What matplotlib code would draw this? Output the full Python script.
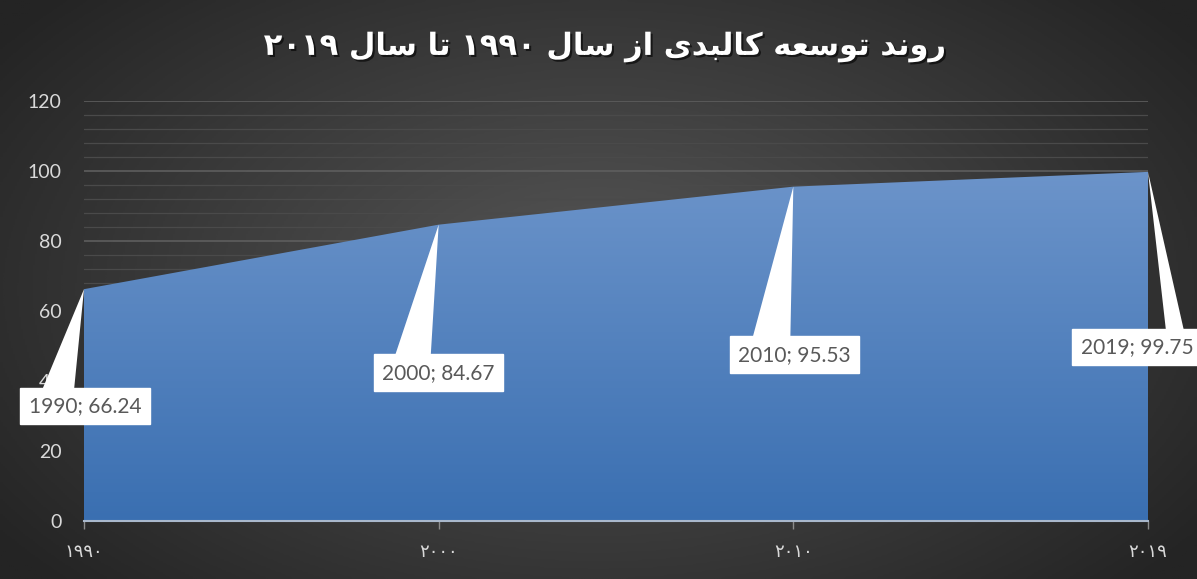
import unicodedata
import numpy as np
import matplotlib.pyplot as plt
import matplotlib.patheffects as pe
from matplotlib.colors import LinearSegmentedColormap
from matplotlib.patches import Polygon
from matplotlib.transforms import IdentityTransform

# data
years = ['1990', '2000', '2010', '2019']
values = [66.24, 84.67, 95.53, 99.75]
year_labels = ['۱۹۹۰', '۲۰۰۰', '۲۰۱۰', '۲۰۱۹']
title = 'روند توسعه کالبدی از سال ۱۹۹۰ تا سال ۲۰۱۹'

# callout layout in pixels: label centre offset from the point,
# where the wedge meets the box top (relative to box centre) and its half width
label_offsets = [(1, -117), (0, -148), (1, -168), (-11, -175)]
wedge_base = [(-27, 16), (-26, 18), (-23, 19), (38, 9)]
box_half_h = 18

RIGHT_ONLY = set('اآأإدذرزژو')


def is_letter(ch):
    return unicodedata.name(ch, '').startswith('ARABIC LETTER')


def shape_fa(text):
    # matplotlib has no arabic shaping, so pick the joined forms by hand
    # and put everything in visual (left to right) order
    out = []
    for i, ch in enumerate(text):
        if not is_letter(ch):
            out.append(ch)
            continue
        prev = text[i - 1] if i > 0 else ' '
        nxt = text[i + 1] if i + 1 < len(text) else ' '
        jp = is_letter(prev) and prev not in RIGHT_ONLY
        jn = is_letter(nxt) and ch not in RIGHT_ONLY
        form = {(True, True): 'MEDIAL', (True, False): 'FINAL',
                (False, True): 'INITIAL', (False, False): 'ISOLATED'}[(jp, jn)]
        try:
            out.append(unicodedata.lookup(unicodedata.name(ch) + ' ' + form + ' FORM'))
        except KeyError:
            out.append(ch)
    words = ''.join(out).split(' ')
    return ' '.join(w if w.isdigit() else w[::-1] for w in reversed(words))


fig = plt.figure(figsize=(11.97, 5.79), dpi=100)

# dark radial background
bg = fig.add_axes([0, 0, 1, 1], zorder=-10)
yy, xx = np.mgrid[0:1:300j, 0:1:600j]
r = np.sqrt(((xx - 0.5) / 0.62) ** 2 + ((yy - 0.5) / 0.75) ** 2)
bg_cmap = LinearSegmentedColormap.from_list('bg', ['#575757', '#242424'])
bg.imshow(np.clip(r, 0, 1), cmap=bg_cmap, vmin=0, vmax=1, aspect='auto', extent=[0, 1, 0, 1])
bg.axis('off')

ax = fig.add_axes([84 / 1197, 58 / 579, 1064 / 1197, 420 / 579])
ax.patch.set_alpha(0)
x = np.arange(len(values))

# area with a vertical blue gradient
area = ax.fill_between(x, values, 0, facecolor='none', edgecolor='none')
area_cmap = LinearSegmentedColormap.from_list('area', ['#3a6fb1', '#6c94ca'])
grad = np.linspace(0, 1, 256).reshape(-1, 1)
im = ax.imshow(grad, cmap=area_cmap, origin='lower', aspect='auto',
               extent=[0, len(values) - 1, 0, max(values)], zorder=2)
im.set_clip_path(area.get_paths()[0], transform=ax.transData)

ax.set_xlim(0, len(values) - 1)
ax.set_ylim(0, 120)
ax.set_yticks(range(0, 121, 20))
ax.set_yticks(range(0, 121, 4), minor=True)
ax.grid(axis='y', which='major', color='#5e5e5e', linewidth=1.2, zorder=0)
ax.grid(axis='y', which='minor', color='#4a4a4a', linewidth=0.9, zorder=0)
ax.set_axisbelow(True)

ax.set_xticks(x)
ax.set_xticklabels(year_labels, fontsize=13, color='#d9d9d9')
ax.tick_params(axis='x', length=6, width=1, color='#8c8c8c', pad=10)
ax.tick_params(axis='y', which='both', length=0, pad=16, labelsize=14, labelcolor='#d9d9d9')
for lbl in ax.get_yticklabels():
    lbl.set_family('Lato')

for side in ['left', 'right', 'top']:
    ax.spines[side].set_visible(False)
ax.spines['bottom'].set_color('#a9b8cc')
ax.spines['bottom'].set_linewidth(1.5)
ax.spines['bottom'].set_zorder(3)

# callouts: white wedge from the point to a white label box
for i, (yr, v) in enumerate(zip(years, values)):
    dx, dy = label_offsets[i]
    ax.annotate(f'{yr}; {v}', xy=(i, v), xytext=(dx * 0.72, dy * 0.72), textcoords='offset points',
                ha='center', va='center', fontsize=15, family='Lato', color='#595959',
                bbox=dict(boxstyle='square,pad=0.4', fc='white', ec='white'),
                zorder=5, annotation_clip=False)
    px, py = ax.transData.transform((i, v))
    bx, hw = wedge_base[i]
    cx, top = px + dx + bx, py + dy + box_half_h - 2
    wedge = Polygon([(px, py), (cx - hw, top), (cx + hw, top)], closed=True,
                    transform=IdentityTransform(), fc='white', ec='none', zorder=4)
    wedge.set_clip_on(False)
    fig.add_artist(wedge)

fig.text(0.505, 0.919, shape_fa(title), ha='center', va='center', fontsize=22,
         fontweight='bold', color='white', family='DejaVu Sans',
         path_effects=[pe.withSimplePatchShadow(offset=(1.5, -1.5), shadow_rgbFace='black', alpha=0.6)])

fig.savefig('out.png', dpi=100)
